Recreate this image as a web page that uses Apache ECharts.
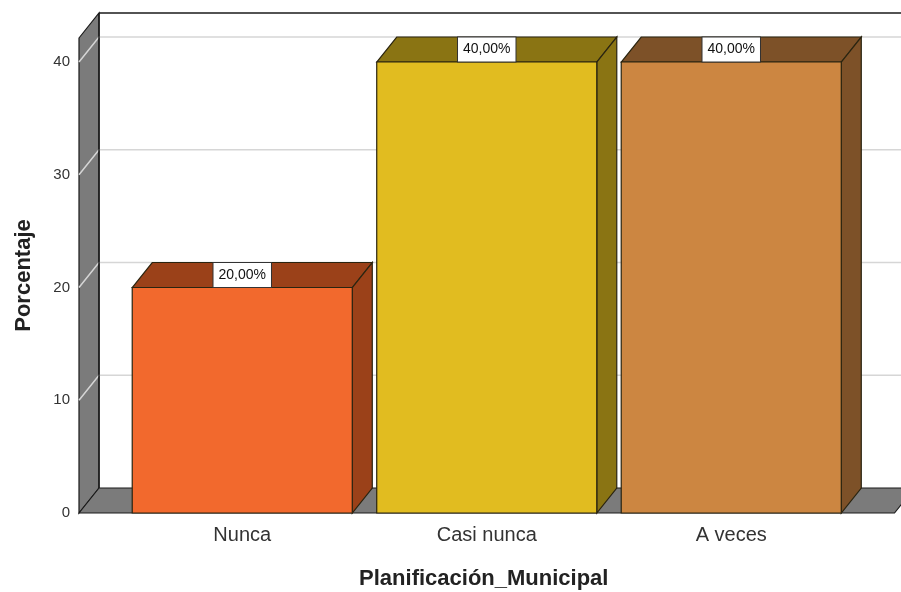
<!DOCTYPE html>
<html>
<head>
<meta charset="utf-8">
<script src="https://cdn.jsdelivr.net/npm/echarts@6/dist/echarts.min.js"></script>
<style>
html,body{margin:0;padding:0;background:#fff;}
#chart{width:901px;height:592px;}
</style>
</head>
<body>
<div id="chart"></div>
<script>
// ---- data ----
const categories = ['Nunca', 'Casi nunca', 'A veces'];
const values = [20, 40, 40];
const yTicks = [0, 10, 20, 30, 40];
const yAxisTitle = 'Porcentaje';
const xAxisTitle = 'Planificación_Municipal';

// ---- styles ----
const frontColors = ['#F2692D', '#E1BC20', '#CC8641'];
const darkColors = ['#9B4119', '#8A7413', '#7D5128'];
const DX = 20, DY = -25, PAD = 41;
const FONT = 'Arial, "Liberation Sans", sans-serif';

const chart = echarts.init(document.getElementById('chart'));

function fmt(v) { return v.toFixed(2).replace('.', ',') + '%'; }

const option = {
  animation: false,
  grid: { left: 120, right: 47.5, top: 38, bottom: 79, outerBoundsMode: 'none', containLabel: false },
  xAxis: {
    type: 'category',
    data: categories,
    axisLine: { show: false },
    axisTick: { show: false },
    axisLabel: { fontSize: 20, color: '#333', fontFamily: FONT, margin: 12 },
    name: xAxisTitle,
    nameLocation: 'middle',
    nameGap: 55,
    nameTextStyle: { fontSize: 22, fontWeight: 'bold', color: '#222', fontFamily: FONT, padding: [0, 0, 0, -6] }
  },
  yAxis: {
    type: 'value',
    min: 0,
    max: 42.13,
    interval: 10,
    axisLine: { show: false },
    axisTick: { show: false },
    splitLine: { show: false },
    axisLabel: {
      fontSize: 15, color: '#333', fontFamily: FONT, margin: 50,
      customValues: yTicks
    },
    name: yAxisTitle,
    nameLocation: 'middle',
    nameGap: 85,
    nameTextStyle: { fontSize: 22, fontWeight: 'bold', color: '#222', fontFamily: FONT }
  },
  series: [
    {
      type: 'custom',
      silent: true,
      z: 1,
      data: [[0, 0]],
      renderItem: function (params, api) {
        const cs = params.coordSys;
        const fx0 = cs.x - PAD;
        const fx1 = cs.x + cs.width + PAD;
        const yBase = api.coord([0, 0])[1];
        const yTop = cs.y;
        const far = 960;
        const children = [];
        // left wall
        children.push({
          type: 'polygon',
          shape: { points: [[fx0, yTop], [fx0 + DX, yTop + DY], [fx0 + DX, yBase + DY], [fx0, yBase]] },
          style: { fill: '#7b7b7b', stroke: '#1a1a1a', lineWidth: 1.2 }
        });
        // gridlines
        yTicks.forEach(function (v) {
          if (v === 0) return;
          const y = api.coord([0, v])[1];
          children.push({
            type: 'polyline',
            shape: { points: [[fx0, y], [fx0 + DX, y + DY], [far, y + DY]] },
            style: { stroke: '#d6d6d6', lineWidth: 1.5, fill: null }
          });
        });
        // back wall top line
        children.push({
          type: 'line',
          shape: { x1: fx0 + DX, y1: yTop + DY, x2: far, y2: yTop + DY },
          style: { stroke: '#1a1a1a', lineWidth: 1.5 }
        });
        // floor
        children.push({
          type: 'polygon',
          shape: { points: [[fx0, yBase], [fx0 + DX, yBase + DY], [fx1 + DX, yBase + DY], [fx1, yBase]] },
          style: { fill: '#7b7b7b', stroke: '#1a1a1a', lineWidth: 1.2 }
        });
        // wall inner edge
        children.push({
          type: 'line',
          shape: { x1: fx0 + DX, y1: yTop + DY, x2: fx0 + DX, y2: yBase + DY },
          style: { stroke: '#1a1a1a', lineWidth: 1.5 }
        });
        return { type: 'group', children: children };
      }
    },
    {
      type: 'custom',
      z: 2,
      data: values.map(function (v, i) { return [i, v]; }),
      encode: { x: 0, y: 1 },
      renderItem: function (params, api) {
        const i = api.value(0);
        const v = api.value(1);
        const p0 = api.coord([i, 0]);
        const p1 = api.coord([i, v]);
        const w = api.size([1, 0])[0] * 0.9;
        const l = p0[0] - w / 2, r = p0[0] + w / 2;
        const b = p0[1], t = p1[1];
        const stroke = '#2a2410';
        return {
          type: 'group',
          children: [
            {
              type: 'polygon',
              shape: { points: [[l, t], [l + DX, t + DY], [r + DX, t + DY], [r, t]] },
              style: { fill: darkColors[i], stroke: stroke, lineWidth: 1.2 }
            },
            {
              type: 'polygon',
              shape: { points: [[r, t], [r + DX, t + DY], [r + DX, b + DY], [r, b]] },
              style: { fill: darkColors[i], stroke: stroke, lineWidth: 1.2 }
            },
            {
              type: 'rect',
              shape: { x: l, y: t, width: w, height: b - t },
              style: { fill: frontColors[i], stroke: stroke, lineWidth: 1.2 }
            },
            {
              type: 'text',
              x: p0[0],
              y: t + DY / 2,
              style: {
                text: fmt(v),
                fontSize: 14,
                lineHeight: 14,
                fontFamily: FONT,
                fill: '#111',
                align: 'center',
                verticalAlign: 'middle',
                backgroundColor: '#fff',
                borderColor: '#333',
                borderWidth: 1,
                padding: [5, 5, 5, 5]
              }
            }
          ]
        };
      }
    }
  ]
};
chart.setOption(option);
</script>
</body>
</html>
